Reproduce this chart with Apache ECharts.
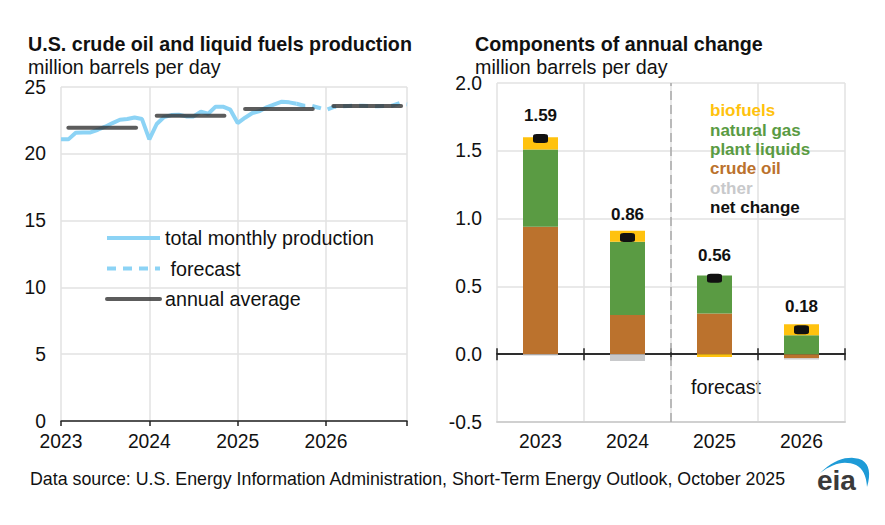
<!DOCTYPE html>
<html>
<head>
<meta charset="utf-8">
<script src="https://cdn.jsdelivr.net/npm/echarts@6/dist/echarts.min.js"></script>
<style>
html,body{margin:0;padding:0;background:#fff;}
#chart{width:885px;height:525px;}
</style>
</head>
<body>
<div id="chart"></div>
<script>
// ---------- DATA ----------
// Left panel: monthly production, Jan 2023 .. Dec 2026 (million b/d)
const monthlyProduction = [
  21.08, 21.08, 21.58, 21.6, 21.6, 21.8, 22.03, 22.3, 22.55, 22.6, 22.72, 22.6,
  21.08, 22.23, 22.75, 22.9, 22.92, 22.8, 22.8, 23.15, 23.0, 23.53, 23.53, 23.3,
  22.3, 22.7, 23.05, 23.2, 23.5, 23.7, 23.9, 23.85, 23.75, 23.6, 23.6, 23.45,
  23.28, 23.5, 23.55, 23.58, 23.6, 23.6, 23.58, 23.55, 23.58, 23.6, 23.8, 23.7
];
const lastHistoryIndex = 32;           // Sep 2025, forecast afterwards
const years = ['2023', '2024', '2025', '2026'];
const annualAverage = [21.95, 22.85, 23.35, 23.58];

// Right panel: components of annual change (million b/d)
const changeYears = ['2023', '2024', '2025', '2026'];
const crudeOil   = [0.94, 0.29, 0.30, -0.03];
const ngpl       = [0.57, 0.54, 0.28, 0.14];
const biofuels   = [0.09, 0.08, -0.02, 0.08];
const otherChg   = [-0.01, -0.05, 0.00, -0.01];
const netChange  = [1.59, 0.86, 0.56, 0.18];
const forecastBoundary = 2; // boundary before 2025 category

const leftTicks = [0, 5, 10, 15, 20, 25];
const rightTicks = [-0.5, 0, 0.5, 1.0, 1.5, 2.0];

// ---------- STYLE ----------
const FONT = '"Liberation Sans", Arial, sans-serif';
const BLUE = '#8CD3F5';
const GRAY = '#333333';
const YELLOW = '#FFC20E';
const GREEN = '#5A9B43';
const ORANGE = '#BB722D';
const LIGHTGRAY = '#C8C9CB';
const GRID = '#E2E2E2';
const TXT = '#111111';
const FS = 19.7;

const history = monthlyProduction.slice(0, lastHistoryIndex + 1).map((v, i) => [i, v]);
const forecast = monthlyProduction.slice(lastHistoryIndex).map((v, i) => [i + lastHistoryIndex, v]);
const AVG_START = 1, AVG_END = 10.2;
const avgSeries = annualAverage.map((v, i) => ({
  name: 'annual average', type: 'line', xAxisIndex: 0, yAxisIndex: 0,
  symbol: 'none', silent: true, z: 4,
  lineStyle: { color: GRAY, width: 4, opacity: 0.8, cap: 'round' },
  itemStyle: { color: GRAY },
  data: [[i * 12 + AVG_START, v], [i * 12 + AVG_END, v]]
}));

// eia logo swoosh (sampled quadratic curves -> polygon)
function quad(p0, p1, p2, n) {
  const pts = [];
  for (let k = 0; k <= n; k++) {
    const t = k / n, a = (1 - t) * (1 - t), b = 2 * (1 - t) * t, c = t * t;
    pts.push([a * p0[0] + b * p1[0] + c * p2[0], a * p0[1] + b * p1[1] + c * p2[1]]);
  }
  return pts;
}
const swoosh = [].concat(
  quad([820, 473], [842, 452], [862, 460], 12),
  quad([862, 460], [873, 467], [867, 487], 8).slice(1),
  quad([867, 487], [866, 470], [856, 465], 8).slice(1),
  quad([856, 465], [840, 458], [820, 473], 12).slice(1)
);

const chart = echarts.init(document.getElementById('chart'), null, { renderer: 'svg' });

const option = {
  backgroundColor: '#fff',
  animation: false,
  textStyle: { fontFamily: FONT },
  title: [
    { text: 'U.S. crude oil and liquid fuels production', subtext: 'million barrels per day',
      left: 28, top: 34, padding: 0, itemGap: 3,
      textStyle: { fontFamily: FONT, fontSize: FS, fontWeight: 'bold', color: TXT },
      subtextStyle: { fontFamily: FONT, fontSize: FS, color: TXT } },
    { text: 'Components of annual change', subtext: 'million barrels per day',
      left: 475, top: 34, padding: 0, itemGap: 3,
      textStyle: { fontFamily: FONT, fontSize: FS, fontWeight: 'bold', color: TXT },
      subtextStyle: { fontFamily: FONT, fontSize: FS, color: TXT } }
  ],
  legend: [
    { orient: 'vertical', left: 105, top: 228, itemWidth: 53, itemHeight: 14, itemGap: 10.5,
      padding: 0, selectedMode: false,
      itemStyle: { opacity: 0 },
      lineStyle: { width: 4 },
      textStyle: { fontFamily: FONT, fontSize: FS, color: TXT },
      data: ['total monthly production', ' forecast', 'annual average'] },
    { orient: 'vertical', left: 705, top: 101, itemWidth: 0, itemHeight: 1, itemGap: 0,
      padding: 0, selectedMode: false, icon: 'rect',
      textStyle: { fontFamily: FONT, fontSize: 17, fontWeight: 'bold', lineHeight: 19.4 },
      data: [
        { name: 'biofuels', textStyle: { color: YELLOW } },
        { name: 'natural gas\nplant liquids', textStyle: { color: GREEN } },
        { name: 'crude oil', textStyle: { color: ORANGE } },
        { name: 'other', textStyle: { color: LIGHTGRAY } },
        { name: 'net change', textStyle: { color: TXT } }
      ] }
  ],
  grid: [
    { left: 61, right: 478, top: 87, bottom: 104 },
    { left: 497, right: 40, top: 83, bottom: 103 }
  ],
  xAxis: [
    { gridIndex: 0, type: 'value', min: 0, max: 47, interval: 12,
      axisLine: { show: true, lineStyle: { color: '#222', width: 1.5 } },
      axisTick: { show: true, length: 5, lineStyle: { color: '#222', width: 1.5 } },
      splitLine: { show: true, lineStyle: { color: GRID, width: 1.5 } },
      axisLabel: { fontFamily: FONT, fontSize: 19.3, color: TXT, margin: 11,
        formatter: v => (v % 12 === 0 ? years[v / 12] : '') } },
    { gridIndex: 1, type: 'category', data: changeYears, position: 'bottom',
      axisLine: { show: true, onZero: false, lineStyle: { color: '#D0D0D0', width: 2 } },
      axisTick: { show: false },
      splitLine: { show: true, lineStyle: { color: GRID, width: 1.5 } },
      axisLabel: { fontFamily: FONT, fontSize: 19.3, color: TXT, margin: 10 } },
    { gridIndex: 1, type: 'category', data: changeYears,
      axisLine: { show: true, onZero: true, onZeroAxisIndex: 1, lineStyle: { color: '#222', width: 1.5 } },
      axisTick: { show: true, length: 6, lineStyle: { color: '#222', width: 1.5 } },
      axisLabel: { show: false }, splitLine: { show: false } },
    { gridIndex: 1, type: 'category', data: changeYears,
      axisLine: { show: true, onZero: true, onZeroAxisIndex: 1, lineStyle: { color: '#222', width: 1.5 } },
      axisTick: { show: true, inside: true, length: 6, lineStyle: { color: '#222', width: 1.5 } },
      axisLabel: { show: false }, splitLine: { show: false } },
    { gridIndex: 1, type: 'value', min: 0, max: 4, show: false }
  ],
  yAxis: [
    { gridIndex: 0, type: 'value', min: leftTicks[0], max: leftTicks[leftTicks.length - 1], interval: 5,
      axisLine: { show: false }, axisTick: { show: false },
      splitLine: { show: true, lineStyle: { color: GRID, width: 1.5 } },
      axisLabel: { fontFamily: FONT, fontSize: 19.3, color: TXT, margin: 15 } },
    { gridIndex: 1, type: 'value', min: rightTicks[0], max: rightTicks[rightTicks.length - 1], interval: 0.5,
      axisLine: { show: false }, axisTick: { show: false },
      splitLine: { show: true, lineStyle: { color: GRID, width: 1.5 } },
      axisLabel: { fontFamily: FONT, fontSize: 19.3, color: TXT, margin: 15,
        formatter: v => v.toFixed(1) } }
  ],
  series: [
    { name: 'total monthly production', type: 'line', xAxisIndex: 0, yAxisIndex: 0,
      symbol: 'none', z: 3, data: history,
      lineStyle: { color: BLUE, width: 4 }, itemStyle: { color: BLUE } },
    { name: ' forecast', type: 'line', xAxisIndex: 0, yAxisIndex: 0,
      symbol: 'none', z: 3, data: forecast,
      lineStyle: { color: BLUE, width: 4, type: [9, 7] }, itemStyle: { color: BLUE } },
    ...avgSeries,
    // right panel
    { name: 'crude oil', type: 'bar', xAxisIndex: 1, yAxisIndex: 1, stack: 'c', barWidth: 35,
      itemStyle: { color: ORANGE }, data: crudeOil },
    { name: 'natural gas\nplant liquids', type: 'bar', xAxisIndex: 1, yAxisIndex: 1, stack: 'c', barWidth: 35,
      itemStyle: { color: GREEN }, data: ngpl },
    { name: 'biofuels', type: 'bar', xAxisIndex: 1, yAxisIndex: 1, stack: 'c', barWidth: 35,
      itemStyle: { color: YELLOW }, data: biofuels },
    { name: 'other', type: 'bar', xAxisIndex: 1, yAxisIndex: 1, stack: 'c', barWidth: 35,
      itemStyle: { color: LIGHTGRAY }, data: otherChg },
    { name: 'net change', type: 'scatter', xAxisIndex: 1, yAxisIndex: 1, z: 10,
      symbol: 'roundRect', symbolSize: [15, 9],
      itemStyle: { color: '#111', opacity: 1 },
      label: { show: true, position: 'top', distance: 10, fontFamily: FONT, fontSize: 17,
        fontWeight: 'bold', color: TXT, opacity: 1, formatter: p => p.value.toFixed(2) },
      data: netChange },
    { name: 'forecastLine', type: 'line', xAxisIndex: 4, yAxisIndex: 1, symbol: 'none', silent: true, z: 1,
      lineStyle: { color: '#A8A8A8', width: 1.5, type: [9, 5] },
      data: [[forecastBoundary, rightTicks[0]], [forecastBoundary, rightTicks[rightTicks.length - 1]]] }
  ],
  graphic: [
    { type: 'text', left: 691, top: 377,
      style: { text: 'forecast', fontFamily: FONT, fontSize: FS, fill: TXT } },
    { type: 'text', left: 30, top: 470,
      style: { text: 'Data source: U.S. Energy Information Administration, Short-Term Energy Outlook, October 2025',
        fontFamily: FONT, fontSize: 17.8, fill: TXT } },
    { type: 'text', left: 817, top: 466,
      style: { text: 'eia', fontFamily: FONT, fontSize: 28, fontWeight: 'bold', fill: '#3a3a3a' } },
    { type: 'polygon', shape: { points: swoosh }, style: { fill: '#1E9BD7' } }
  ]
};
chart.setOption(option);
</script>
</body>
</html>
